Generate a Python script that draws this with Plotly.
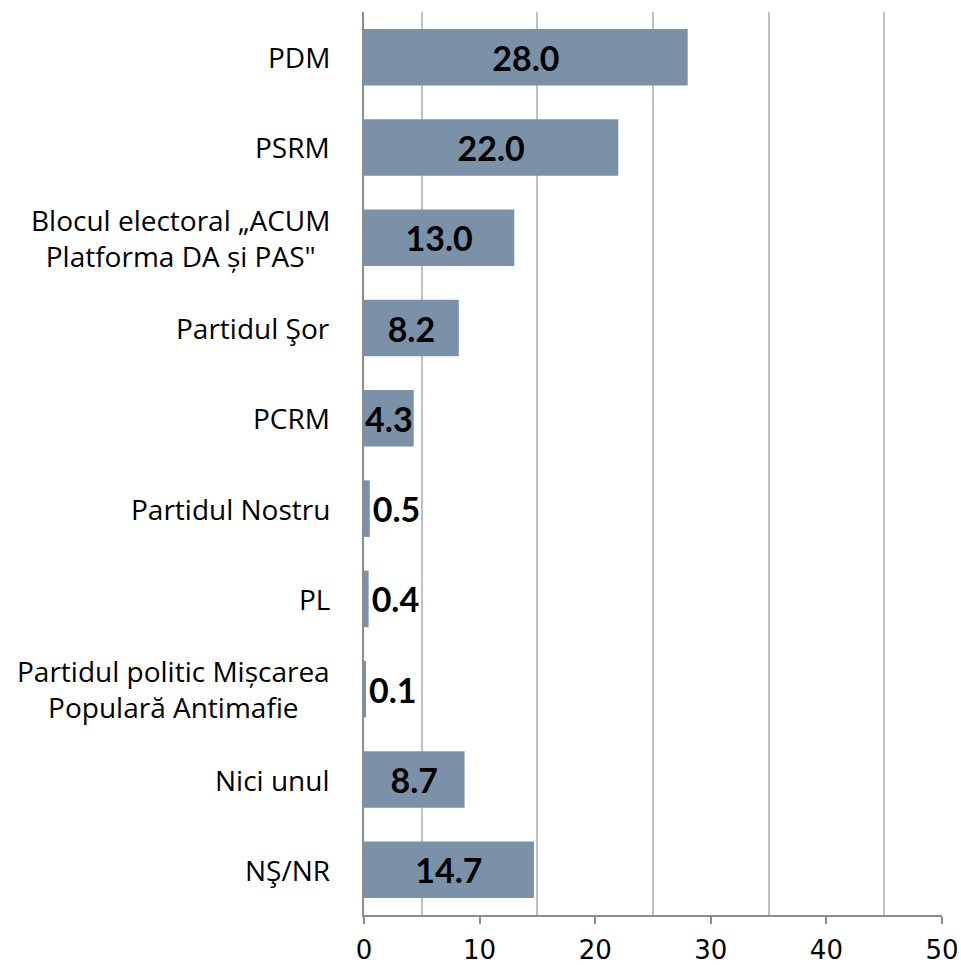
import plotly.graph_objects as go

categories = ["PDM", "PSRM", "Blocul electoral „ACUM<br>Platforma DA și PAS\"", "Partidul Şor",
              "PCRM", "Partidul Nostru", "PL", "Partidul politic Mișcarea<br>Populară Antimafie",
              "Nici unul", "NŞ/NR"]
values = [28.0, 22.0, 13.0, 8.2, 4.3, 0.5, 0.4, 0.1, 8.7, 14.7]
x_ticks = [0, 10, 20, 30, 40, 50]
grid_vals = [5, 15, 25, 35, 45]

ids = list(range(len(categories)))
text_pos = ["inside" if v >= 2 else "outside" for v in values]
val_font = dict(family="Lato", size=34, color="black", weight="bold")

fig = go.Figure()
fig.add_trace(go.Bar(
    x=values, y=ids, orientation="h",
    marker=dict(color="#7A91A8", line=dict(width=0)),
    text=[f"{v:.1f}" for v in values],
    textposition=text_pos,
    textangle=0,
    insidetextanchor="middle",
    constraintext="none",
    cliponaxis=False,
    hoverinfo="skip",
    textfont=val_font, insidetextfont=val_font, outsidetextfont=val_font,
))

for i, c in zip(ids, categories):
    fig.add_annotation(x=0, xref="paper", y=i, yref="y", text=c, showarrow=False,
                       xanchor="right", xshift=-32, align="center",
                       font=dict(family="Open Sans", size=28, color="black"))

fig.update_layout(
    width=961, height=965,
    margin=dict(l=364, r=19, t=12, b=50, autoexpand=False),
    plot_bgcolor="white", paper_bgcolor="white",
    showlegend=False, bargap=0.374,
)
fig.update_xaxes(
    range=[0, 50], tickmode="array", tickvals=x_ticks, ticktext=[str(t) for t in x_ticks],
    showgrid=False, zeroline=False, automargin=False,
    showline=True, linecolor="#8C8C8C", linewidth=2,
    ticks="outside", ticklen=7, tickwidth=2, tickcolor="#8C8C8C",
    ticklabelstandoff=4,
    tickfont=dict(family="DejaVu Sans", size=26, color="black"),
    minor=dict(tickmode="array", tickvals=grid_vals, showgrid=True, gridcolor="#C0C0C0", gridwidth=2, ticks=""),
)
fig.update_yaxes(
    range=[len(categories) - 0.5, -0.5], showticklabels=False, showgrid=False, zeroline=False,
    automargin=False,
    showline=True, linecolor="#8C8C8C", linewidth=2, ticks="",
)

fig.write_html("out.html", config={"displayModeBar": False},
               post_script="document.body.style.margin='0';document.body.style.overflow='hidden';")
